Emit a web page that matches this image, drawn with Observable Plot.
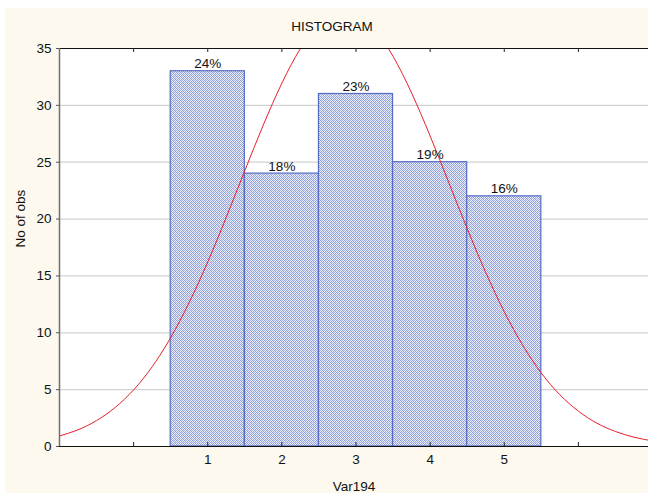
<!DOCTYPE html>
<html><head><meta charset="utf-8">
<script src="https://cdn.jsdelivr.net/npm/d3@7"></script>
<script src="https://cdn.jsdelivr.net/npm/@observablehq/plot@0.6"></script>
<style>
body{margin:0;background:#fff;}
#wrap{position:relative;width:648px;height:493px;overflow:hidden;font-family:"Liberation Sans",Arial,sans-serif;}
#panel{position:absolute;left:5px;top:8px;right:0;bottom:0;background:#fdf9ee;}
#chart{position:absolute;left:0;top:0;}
</style></head><body>
<div id="wrap"><div id="panel"></div><div id="chart"></div></div>
<script>
const categories = [1, 2, 3, 4, 5];
const counts = [33, 24, 31, 25, 22];
const percentLabels = ["24%", "18%", "23%", "19%", "16%"];
const yTicks = [0, 5, 10, 15, 20, 25, 30, 35];
const xTicks = [0, 1, 2, 3, 4, 5, 6];
const xTickLabels = ["1", "2", "3", "4", "5"];
// fitted normal curve
const curveX = [-1, -0.75, -0.5, -0.25, 0, 0.25, 0.5, 0.75, 1, 1.25, 1.5, 1.75, 2, 2.25, 2.5, 2.75, 3, 3.25, 3.5, 3.75, 4, 4.25, 4.5, 4.75, 5, 5.25, 5.5, 5.75, 6, 6.25, 6.5, 6.75, 7];
const curveY = [0.92, 1.47, 2.28, 3.43, 4.98, 7.01, 9.58, 12.67, 16.23, 20.16, 24.26, 28.28, 31.95, 34.99, 37.12, 38.16, 38.01, 36.68, 34.31, 31.09, 27.31, 23.24, 19.16, 15.31, 11.85, 8.89, 6.46, 4.55, 3.11, 2.05, 1.32, 0.82, 0.49];

const bars = categories.map((c, i) => ({cat: c, count: counts[i], pct: percentLabels[i]}));
const curve = curveX.map((x, i) => ({x, y: curveY[i]}));
const FS = 13.5;

const svg = Plot.plot({
  width: 648,
  height: 493,
  marginTop: 48,
  marginBottom: 47,
  marginLeft: 59,
  marginRight: 0,
  style: {background: "transparent", fontFamily: "'Liberation Sans', Arial, sans-serif", fontSize: FS + "px", color: "#111"},
  x: {domain: [-1, 7], range: [59, 652]},
  y: {domain: [0, 35]},
  marks: [
    Plot.frame({fill: "white", stroke: null}),
    Plot.ruleY(yTicks.filter(d => d > 0 && d < 35), {stroke: "#d2d2d2", strokeWidth: 1.3}),
    Plot.rectY(bars, {x1: d => d.cat - 0.5, x2: d => d.cat + 0.5, y: "count", fill: "url(#hatch)", stroke: "#566cc4", strokeWidth: 1.2}),
    Plot.line(curve, {x: "x", y: "y", stroke: "#e8202a", strokeWidth: 1, curve: "natural", clip: true}),
    Plot.text(bars, {x: "cat", y: "count", text: "pct", dy: -3, lineAnchor: "bottom", fontSize: FS, fill: "#111"}),
    Plot.ruleY([0], {stroke: "#111", strokeWidth: 1.2}),
    Plot.ruleY([35], {stroke: "#111", strokeWidth: 1.2}),
    Plot.ruleX([-1], {stroke: "#707070", strokeWidth: 1.5}),
    Plot.tickX(xTicks, {x: d => d, insetTop: 394, stroke: "#222"}),
    Plot.tickX(xTicks, {x: d => d, insetBottom: 394, stroke: "#222"}),
    Plot.axisY(yTicks, {tickSize: 3, tickPadding: 5, fontSize: FS, label: null, stroke: "#555", fill: "#111"}),
    Plot.axisX(categories, {tickSize: 0, tickPadding: 8, fontSize: FS, label: null, tickFormat: (d, i) => xTickLabels[i], fill: "#111"}),
    Plot.text(["HISTOGRAM"], {frameAnchor: "top", dx: -22, dy: -22, lineAnchor: "middle", fontSize: FS, fill: "#111"}),
    Plot.text(["Var194"], {frameAnchor: "bottom", dy: 40, lineAnchor: "middle", fontSize: FS, fill: "#111"}),
    Plot.text(["No of obs"], {frameAnchor: "left", dx: -39, rotate: -90, lineAnchor: "middle", fontSize: FS, fill: "#111"})
  ]
});

const ns = "http://www.w3.org/2000/svg";
const defs = document.createElementNS(ns, "defs");
defs.innerHTML = '<pattern id="hatch" width="4" height="4" patternUnits="userSpaceOnUse">' +
  '<rect width="4" height="4" fill="#eef1fa"/>' +
  '<rect width="1" height="1" fill="#8e9ed9"/>' +
  '<rect x="2" y="0" width="1" height="1" fill="#a3b0e0"/>' +
  '<rect x="1" y="1" width="1" height="1" fill="#8e9ed9"/>' +
  '<rect x="3" y="1" width="1" height="1" fill="#9aa9de"/>' +
  '<rect x="0" y="2" width="1" height="1" fill="#a3b0e0"/>' +
  '<rect x="2" y="2" width="1" height="1" fill="#8e9ed9"/>' +
  '<rect x="1" y="3" width="1" height="1" fill="#9aa9de"/>' +
  '<rect x="3" y="3" width="1" height="1" fill="#8e9ed9"/>' +
  '<rect x="1" y="0" width="1" height="1" fill="#cfd6ef"/>' +
  '<rect x="3" y="2" width="1" height="1" fill="#cfd6ef"/></pattern>';
svg.insertBefore(defs, svg.firstChild);
document.getElementById("chart").appendChild(svg);
</script>
</body></html>
